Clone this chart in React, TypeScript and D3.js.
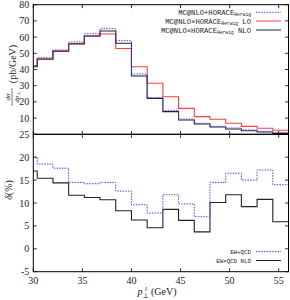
import React, { useEffect, useRef } from 'react';
import * as d3 from 'd3';

// bin edges in p_T (GeV)
const binEdges = [28.8, 30.4, 32, 33.6, 35.2, 36.8, 38.4, 40, 41.6, 43.2, 44.8, 46.4, 48, 49.6, 51.2, 52.8, 54.4, 56];

// upper panel: dsigma/dpT (pb/GeV)
const addHerwig = [42.5, 47.3, 52, 57, 62.1, 65.2, 57.8, 37.2, 22.6, 14.8, 9.4, 6.8, 4.9, 3.9, 2.7, 1.9, 1.0];
const mulHerwigLO = [42.3, 46.3, 51.2, 55.7, 60.7, 61.9, 53, 41.7, 31.5, 23.2, 16, 10.9, 9.3, 6.8, 4.9, 3.7, 2.5];
const mulHerwigNLO = [41.7, 46.5, 51.4, 55.9, 60.7, 63.8, 56.2, 36, 22.2, 14.0, 8.8, 6.4, 4.5, 3.3, 2.2, 1.4, 0.6];

// lower panel: delta (%)
const deltaAdd = [20, 18.5, 17.6, 14.5, 14.2, 14.5, 12.6, 9.6, 7.8, 11.8, 9.8, 7.0, 14.5, 16.5, 15.0, 17.2, 14.0];
const deltaMul = [17.0, 15.4, 14.4, 11.7, 11.2, 10.7, 8.3, 6.3, 4.6, 8.6, 6.2, 3.7, 10.1, 11.8, 9.2, 10.8, 5.9];

const xTicks = [30, 35, 40, 45, 50, 55];
const topTicks = [10, 20, 30, 40, 50, 60, 70, 80];
const botTicks = [-5, 0, 5, 10, 15, 20, 25];

const BLUE = '#4a4af0';
const RED = '#ff3c3c';
const BLACK = '#222222';

const App: React.FC = () => {
  const svgRef = useRef<SVGSVGElement>(null);

  useEffect(() => {
    if (!svgRef.current) return;
    const svg = d3.select(svgRef.current);
    svg.selectAll('*').remove();

    const left = 33.3, right = 288.5;
    const top1 = 4.7, mid = 134.3, bot2 = 271.7;
    const serif = "'Liberation Serif', 'DejaVu Serif', serif";
    const mono = "'Liberation Mono', 'DejaVu Sans Mono', monospace";

    const x = d3.scaleLinear().domain([30, 56]).range([left, right]);
    const yTop = d3.scaleLinear().domain([0, 80]).range([mid, top1]);
    const yBot = d3.scaleLinear().domain([-5, 25]).range([bot2, mid]);

    svg.append('rect').attr('width', 290).attr('height', 300).attr('fill', '#fff');

    const defs = svg.append('defs');
    defs.append('clipPath').attr('id', 'clipTop').append('rect')
      .attr('x', left).attr('y', top1).attr('width', right - left).attr('height', mid - top1);
    defs.append('clipPath').attr('id', 'clipBot').append('rect')
      .attr('x', left).attr('y', mid).attr('width', right - left).attr('height', bot2 - mid);

    const stepPts = (vals: number[]) => {
      const pts: [number, number][] = vals.map((v, i) => [binEdges[i], v]);
      pts.push([binEdges[binEdges.length - 1], vals[vals.length - 1]]);
      return pts;
    };

    const drawStep = (vals: number[], y: d3.ScaleLinear<number, number>, clip: string, color: string, dashed: boolean) => {
      const line = d3.line<[number, number]>()
        .x(d => x(d[0])).y(d => y(d[1]))
        .curve(d3.curveStepAfter);
      svg.append('path')
        .attr('clip-path', `url(#${clip})`)
        .attr('d', line(stepPts(vals)))
        .attr('fill', 'none')
        .attr('stroke', color)
        .attr('stroke-width', dashed ? 1 : 1.1)
        .attr('stroke-dasharray', dashed ? '1.5,1.2' : null);
    };

    drawStep(mulHerwigLO, yTop, 'clipTop', RED, false);
    drawStep(mulHerwigNLO, yTop, 'clipTop', BLACK, false);
    drawStep(addHerwig, yTop, 'clipTop', BLUE, true);

    drawStep(deltaMul, yBot, 'clipBot', BLACK, false);
    drawStep(deltaAdd, yBot, 'clipBot', BLUE, true);

    // frames
    const frame = svg.append('g').attr('fill', 'none').attr('stroke', '#000').attr('stroke-width', 1);
    frame.append('rect').attr('x', left).attr('y', top1).attr('width', right - left).attr('height', mid - top1);
    frame.append('rect').attr('x', left).attr('y', mid).attr('width', right - left).attr('height', bot2 - mid);

    const tl = 3.5;
    const ticks = svg.append('g').attr('stroke', '#000').attr('stroke-width', 0.8);
    topTicks.forEach(t => {
      ticks.append('line').attr('x1', left).attr('x2', left + tl).attr('y1', yTop(t)).attr('y2', yTop(t));
      ticks.append('line').attr('x1', right).attr('x2', right - tl).attr('y1', yTop(t)).attr('y2', yTop(t));
    });
    botTicks.forEach(t => {
      ticks.append('line').attr('x1', left).attr('x2', left + tl).attr('y1', yBot(t)).attr('y2', yBot(t));
      ticks.append('line').attr('x1', right).attr('x2', right - tl).attr('y1', yBot(t)).attr('y2', yBot(t));
    });
    xTicks.forEach(t => {
      ticks.append('line').attr('x1', x(t)).attr('x2', x(t)).attr('y1', mid).attr('y2', mid - tl);
      ticks.append('line').attr('x1', x(t)).attr('x2', x(t)).attr('y1', bot2).attr('y2', bot2 - tl);
      ticks.append('line').attr('x1', x(t)).attr('x2', x(t)).attr('y1', mid).attr('y2', mid + tl);
      ticks.append('line').attr('x1', x(t)).attr('x2', x(t)).attr('y1', top1).attr('y2', top1 + tl);
    });

    const lab = svg.append('g').attr('font-family', serif).attr('font-size', 10).attr('fill', '#222');
    topTicks.forEach(t => {
      lab.append('text').attr('x', left - 4).attr('y', yTop(t)).attr('dy', '0.35em')
        .attr('text-anchor', 'end').text(t);
    });
    botTicks.forEach(t => {
      lab.append('text').attr('x', left - 4).attr('y', yBot(t)).attr('dy', '0.35em')
        .attr('text-anchor', 'end').text(t);
    });
    xTicks.forEach(t => {
      lab.append('text').attr('x', x(t)).attr('y', bot2 + 12)
        .attr('text-anchor', 'middle').text(t);
    });

    // x title
    const xt = lab.append('text').attr('x', 157).attr('y', 295).attr('text-anchor', 'middle');
    xt.append('tspan').attr('font-style', 'italic').text('p');
    xt.append('tspan').attr('font-size', 7).attr('dy', 2.5).text('⊥');
    xt.append('tspan').attr('font-size', 7).attr('font-style', 'italic').attr('dx', -4).attr('dy', -7).text('l');
    xt.append('tspan').attr('dx', 4).attr('dy', 4.5).text('(GeV)');

    // y title top
    const yt = lab.append('g').attr('transform', 'translate(13,82) rotate(-90)');
    yt.append('text').attr('x', -15).attr('y', -3).attr('text-anchor', 'middle')
      .attr('font-size', 7).attr('font-style', 'italic').text('dσ');
    yt.append('line').attr('x1', -24).attr('x2', -6).attr('y1', -1).attr('y2', -1)
      .attr('stroke', '#222').attr('stroke-width', 0.6);
    const den = yt.append('text').attr('x', -15).attr('y', 5.5).attr('text-anchor', 'middle')
      .attr('font-size', 7).attr('font-style', 'italic');
    den.append('tspan').text('dp');
    den.append('tspan').attr('font-size', 5).attr('dy', 1.5).text('⊥');
    yt.append('text').attr('x', 18).attr('y', 3).attr('text-anchor', 'middle').text('(pb/GeV)');

    // y title bottom
    lab.append('text').attr('transform', 'translate(12,190) rotate(-90)')
      .attr('text-anchor', 'middle').html('<tspan font-style="italic">δ</tspan>(%)');

    // legends
    const leg = svg.append('g').attr('font-family', mono).attr('fill', '#222');
    const legendRow = (yy: number, fs: number, main: string, sub: string, tail: string, color: string, dashed: boolean) => {
      const t = leg.append('text').attr('x', 251).attr('y', yy).attr('dy', '0.35em')
        .attr('text-anchor', 'end').attr('font-size', fs);
      t.append('tspan').text(main);
      if (sub) t.append('tspan').attr('font-size', fs * 0.65).attr('dy', 1.5).text(sub);
      if (tail) t.append('tspan').attr('dy', sub ? -1.5 : 0).text(' ' + tail);
      leg.append('line').attr('x1', 256).attr('x2', 281).attr('y1', yy).attr('y2', yy)
        .attr('stroke', color).attr('stroke-width', 1)
        .attr('stroke-dasharray', dashed ? '1.5,1.2' : null);
    };
    legendRow(12.3, 7.2, 'MC@NLO+HORACE', 'Herwig', '', BLUE, true);
    legendRow(21, 7.2, 'MC@NLO×HORACE', 'Herwig', 'LO', RED, false);
    legendRow(30, 7.2, 'MC@NLO×HORACE', 'Herwig', 'NLO', BLACK, false);
    legendRow(251.5, 5.8, 'EW+QCD', '', '', BLUE, true);
    legendRow(260.5, 5.8, 'EW×QCD NLO', '', '', BLACK, false);
  }, []);

  return (
    <svg ref={svgRef} width={290} height={300} viewBox="0 0 290 300"
      style={{ position: 'absolute', left: 0, top: 0 }} />
  );
};

export default App;
